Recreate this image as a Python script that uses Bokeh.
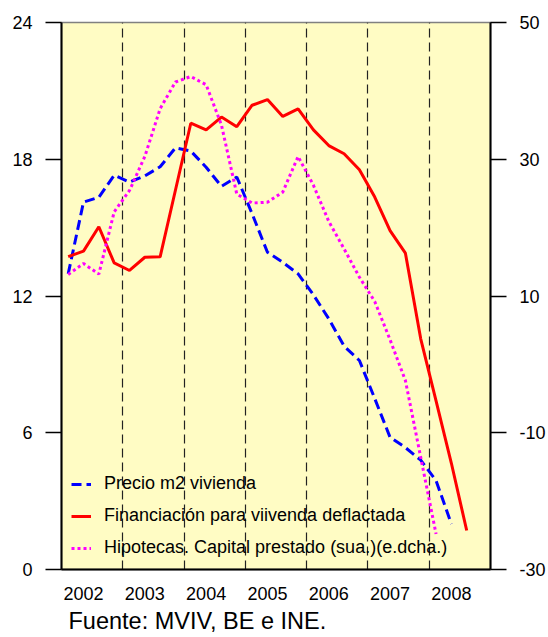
from bokeh.plotting import figure
from bokeh.models import (Range1d, LinearAxis, FixedTicker, Legend, LegendItem, Title)
from bokeh.embed import file_html
from bokeh.resources import INLINE

# ---- data (quarterly, 2002T1 onwards) ----
years = [2002, 2003, 2004, 2005, 2006, 2007, 2008]
quarters = [f"{y}T{q}" for y in years for q in (1, 2, 3, 4)]

precio_m2 = [12.97, 16.12, 16.33, 17.30, 17.00, 17.27, 17.67, 18.50, 18.36, 17.65,
             16.81, 17.22, 15.61, 13.92, 13.48, 12.97, 12.05, 11.00, 9.80, 9.17,
             7.50, 5.80, 5.35, 4.80, 3.90, 2.00]
financiacion = [13.73, 13.97, 15.04, 13.45, 13.12, 13.70, 13.72, 16.65, 19.58, 19.29,
                19.85, 19.43, 20.37, 20.62, 19.88, 20.21, 19.29, 18.60, 18.24, 17.54,
                16.34, 14.87, 13.88, 10.12, 7.40, 4.66, 1.71]
hipotecas = [13.14, 14.75, 13.20, 22.30, 25.43, 30.40, 37.40, 41.30, 42.10, 40.90,
             35.00, 24.90, 23.60, 23.72, 25.19, 30.40, 26.20, 20.90, 16.90, 12.75,
             9.20, 3.60, -2.36, -13.60, -24.80]

left_ticks = [0, 6, 12, 18, 24]
right_ticks = [-30, -10, 10, 30, 50]
year_labels = [str(y) for y in years]


def qpos(q):
    y, t = q.split("T")
    return int(y) + (int(t) - 1) / 4.0


xq = [qpos(q) for q in quarters]

FONT = "Liberation Sans"

p = figure(width=548, height=637, output_backend="svg", toolbar_location=None,
           x_range=Range1d(2001.891, 2008.888), y_range=Range1d(0, 24),
           min_border_left=61, min_border_right=56, min_border_top=22,
           min_border_bottom=68)
p.extra_y_ranges = {"right": Range1d(-30, 50)}

p.background_fill_color = "#FFFCC4"
p.border_fill_color = "white"
p.outline_line_color = "#808080"
p.outline_line_width = 1.5

# grid: vertical dashed separators
p.ygrid.visible = False
p.xgrid.ticker = FixedTicker(ticks=[y + 0.89 for y in years[:-1]])
p.xgrid.grid_line_color = "#222222"
p.xgrid.grid_line_width = 1.2
p.xgrid.grid_line_dash = "9 5"

# x axis
xa = p.xaxis[0]
xa.ticker = FixedTicker(ticks=[y + 0.25 for y in years])
xa.major_label_overrides = {y + 0.25: s for y, s in zip(years, year_labels)}
xa.major_tick_out = 0
xa.major_tick_in = 0
xa.minor_tick_out = 0
xa.minor_tick_in = 0
xa.axis_line_color = "black"
xa.axis_line_width = 2
xa.major_label_text_font = FONT
xa.major_label_text_font_size = "18px"
xa.major_label_text_color = "black"
xa.major_label_standoff = 17


def style_y(ax):
    ax.major_tick_out = 16
    ax.major_tick_in = 0
    ax.minor_tick_out = 0
    ax.minor_tick_in = 0
    ax.major_tick_line_width = 1.5
    ax.major_tick_line_color = "black"
    ax.axis_line_color = "black"
    ax.axis_line_width = 2
    ax.major_label_text_font = FONT
    ax.major_label_text_font_size = "18px"
    ax.major_label_text_color = "black"
    ax.major_label_standoff = 13


ya = p.yaxis[0]
ya.ticker = FixedTicker(ticks=left_ticks)
style_y(ya)

ra = LinearAxis(y_range_name="right", ticker=FixedTicker(ticks=right_ticks))
ra.major_label_overrides = {t: str(t) for t in right_ticks}
style_y(ra)
p.add_layout(ra, "right")

# series
r_blue = p.line(xq[:len(precio_m2)], precio_m2, line_color="#0000FF",
                line_width=3, line_dash="10 5")
r_red = p.line(xq[:len(financiacion)], financiacion, line_color="#FF0000",
               line_width=3)
r_pink = p.line(xq[:len(hipotecas)], hipotecas, y_range_name="right",
                line_color="#FF00FF", line_width=3, line_dash="3 3")

legend = Legend(items=[
    LegendItem(label="Precio m2 vivienda", renderers=[r_blue]),
    LegendItem(label="Financiación para viivenda deflactada", renderers=[r_red]),
    LegendItem(label="Hipotecas. Capital prestado (sua.)(e.dcha.)", renderers=[r_pink]),
], location=(10, 11))
legend.background_fill_alpha = 0
legend.border_line_alpha = 0
legend.padding = 0
legend.margin = 0
legend.spacing = 11
legend.glyph_width = 20
legend.glyph_height = 20
legend.label_height = 20
legend.label_standoff = 13
legend.label_text_font = FONT
legend.label_text_font_size = "18px"
legend.label_text_color = "black"
p.add_layout(legend, "center")

src = Title(text="Fuente: MVIV, BE e INE.", align="left", offset=7, standoff=6,
            text_font=FONT, text_font_size="23.5px", text_font_style="normal",
            text_color="black", text_line_height=0.7)
p.add_layout(src, "below")

open("out.html", "w").write(file_html(p, INLINE))
